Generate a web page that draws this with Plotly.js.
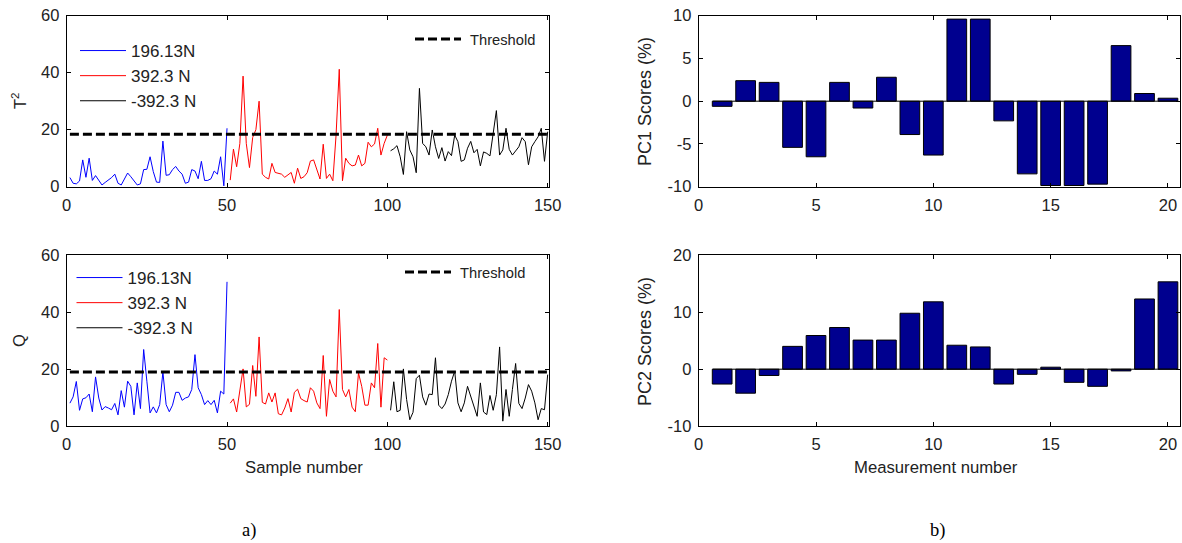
<!DOCTYPE html>
<html>
<head>
<meta charset="utf-8">
<script src="https://cdn.plot.ly/plotly-3.0.1.min.js"></script>
<style>html,body{margin:0;padding:0;background:#fff}</style>
</head>
<body>
<div id="chart" style="width:1182px;height:543px"></div>
<script>
// values
const t2Blue = [3.2,1.2,1,2,9.4,3.3,10,2.2,3.9,2,0.6,1.5,2.2,3.2,4.4,1.2,0.6,2.5,4.8,3.5,2,0.6,1,6,6.1,10.5,5.3,1.6,1.5,16,4,4.2,6,7.1,5.5,4.4,1.2,1.6,6,5.5,2.8,8.9,2.2,2.2,2.8,5.5,4.4,10.5,0.3,20.5];
const t2Red = [2.3,13.2,7,15.2,38.8,15.2,6.7,17.3,20,30,4.4,3.3,2.7,8.2,5,4.7,4.4,3.3,4,5,1.2,6.5,2.9,3.5,4.9,9,9.4,6.4,2.7,14.9,2.9,4.4,2.1,18,41.2,2.1,10,8.2,7.3,7.6,11.1,7.3,8.2,15.6,14,15,20.5,11.1,15.2,18.1];
const t2Black = [12.6,13.3,14.4,10.5,4.3,19.3,12.9,10.5,4.9,34.5,15.2,14,11.1,19.9,14,9.9,13.7,9,12.3,10.9,18.1,15.8,8.9,9.4,13.5,15.9,11.9,13.1,7.3,12.2,11.7,10.8,18.7,26.7,11.1,12.9,20.5,13.1,11.1,12.5,14,17.2,15.8,7.7,14,15.8,17.5,20.5,8.9,19.3];
const qBlue = [8.1,10.3,15.7,5.6,9.6,10,11.3,5.1,17.3,9.9,5.7,6.9,6.4,5.8,8,4,12.5,6.7,15.8,14,4,15.2,6.2,26.9,15.8,4.7,6.8,4.7,7.6,19,7.6,5.1,7.4,11.9,11.9,9.1,9.9,10.3,12.9,25.1,13.5,11.1,7.6,9,7.6,9.1,4.7,12.3,11.3,50.6];
const qRed = [8.1,9.6,5,12.9,20.1,6.8,7.7,21.3,10.5,31.3,8.4,7.8,11.7,8.5,11.7,4.4,4,6.4,9.7,5,11.9,13,9.7,9,8.5,13.5,12.3,8.2,6.2,24.8,3.5,16.4,12.3,10.3,40.9,12.9,10.3,12.9,6.7,5.1,18.7,14,7.4,7.4,15.2,13.5,29,6.7,24,23.2];
const qBlack = [5.6,15.6,5.1,5.6,20.1,9.4,2.3,4.9,16.7,17.9,10.3,7.4,11.3,11.1,24,7.4,6.2,7.8,11.1,15.8,19.3,8.2,5.1,8.2,14,10.5,7.4,3.5,15.2,5,4.1,10.8,5.6,11.1,27.8,1.8,12.9,3.5,12.9,22,8,6.2,9.9,14.6,12.3,8.2,2.3,6.2,5.8,18.1];
const pc1Scores = [-0.6,2.4,2.2,-5.4,-6.5,2.2,-0.8,2.8,-3.9,-6.3,9.6,9.6,-2.3,-8.5,-9.86,-9.86,-9.7,6.5,0.9,0.35];
const pc2Scores = [-2.6,-4.2,-1.1,4,5.9,7.3,5.1,5.1,9.8,11.8,4.2,3.9,-2.6,-0.9,0.35,-2.3,-3,-0.3,12.3,15.3];
const t2Threshold = 18.4;
const qThreshold = 19;
const thresholdX = [1, 150];
const baselineX = [0.6, 20.4];
const seriesNames = ['196.13N', '392.3 N', '-392.3 N'];
const seriesColors = ['#0000ff', '#ff0000', '#000000'];

const W = 1182, H = 543;
const textColor = '#222';
const fontFam = 'Arial, "Liberation Sans", sans-serif';

const range = (start, n) => Array.from({ length: n }, (_, i) => start + i);
const measurements = range(1, 20);

function lineTraces(values, xa, ya, legend) {
    return values.map((v, i) => ({
        x: range(1 + i * 50, v.length),
        y: v,
        xaxis: xa,
        yaxis: ya,
        type: 'scatter',
        mode: 'lines',
        name: seriesNames[i],
        legend: legend,
        legendgroup: legend + i,
        line: { color: seriesColors[i], width: 1 }
    }));
}

function thresholdTrace(level, xa, ya, legend) {
    return {
        x: thresholdX,
        y: [level, level],
        xaxis: xa,
        yaxis: ya,
        type: 'scatter',
        mode: 'lines',
        name: '\u00a0Threshold',
        legend: legend,
        line: { color: '#000', width: 3, dash: '9px,4px' }
    };
}

function barTraces(values, xa, ya) {
    return [{
        x: measurements,
        y: values,
        xaxis: xa,
        yaxis: ya,
        type: 'bar',
        width: 0.84,
        showlegend: false,
        marker: { color: '#00008f', line: { color: '#000', width: 1 } }
    }, {
        x: baselineX,
        y: [0, 0],
        xaxis: xa,
        yaxis: ya,
        type: 'scatter',
        mode: 'lines',
        showlegend: false,
        line: { color: '#000', width: 1 }
    }];
}

const data = [
    ...lineTraces([t2Blue, t2Red, t2Black], 'x', 'y', 'legend'),
    thresholdTrace(t2Threshold, 'x', 'y', 'legend2'),
    ...lineTraces([qBlue, qRed, qBlack], 'x2', 'y2', 'legend3'),
    thresholdTrace(qThreshold, 'x2', 'y2', 'legend4'),
    ...barTraces(pc1Scores, 'x3', 'y3'),
    ...barTraces(pc2Scores, 'x4', 'y4')
];

function axis(domain, anchor, rng, tickvals) {
    return {
        domain: domain,
        anchor: anchor,
        range: rng,
        tickmode: 'array',
        tickvals: tickvals,
        ticktext: tickvals.map(String),
        ticks: 'inside',
        ticklen: 4,
        tickwidth: 1,
        tickcolor: '#000',
        showline: true,
        linecolor: '#000',
        linewidth: 1,
        mirror: 'allticks',
        showgrid: false,
        zeroline: false,
        ticklabelstandoff: 3,
        tickfont: { family: fontFam, size: 16.5, color: textColor }
    };
}

const xDomain = (left, right) => [left / W, right / W];
const yDomain = (top, bottom) => [1 - bottom / H, 1 - top / H];

function lineLegend(xPx, yPx) {
    return {
        x: xPx / W, y: 1 - yPx / H, xanchor: 'left', yanchor: 'top',
        bgcolor: 'rgba(0,0,0,0)', borderwidth: 0, traceorder: 'grouped', tracegroupgap: 0,
        itemwidth: 46, font: { family: fontFam, size: 17, color: textColor }
    };
}

function thresholdLegend(xPx, yPx) {
    return {
        x: xPx / W, y: 1 - yPx / H, xanchor: 'left', yanchor: 'top',
        bgcolor: 'rgba(0,0,0,0)', borderwidth: 0,
        itemwidth: 46, font: { family: fontFam, size: 14.7, color: textColor }
    };
}

function label(text, xPx, yPx, size, angle) {
    return {
        text: text, xref: 'paper', yref: 'paper', x: xPx / W, y: 1 - yPx / H,
        xanchor: 'center', yanchor: 'middle', showarrow: false, textangle: angle || 0,
        font: { family: fontFam, size: size, color: textColor }
    };
}

function caption(text, xPx) {
    const c = label(text, xPx, 530.5, 18.5);
    c.font = { family: '"Liberation Serif", serif', size: 18.5, color: '#000' };
    return c;
}

const leftPanel = xDomain(66.7, 549.3);
const rightPanel = xDomain(698.7, 1179.7);
const topPanel = yDomain(15.7, 186.7);
const lowPanel = yDomain(255, 426.3);

const layout = {
    width: W,
    height: H,
    margin: { l: 0, r: 0, t: 0, b: 0 },
    paper_bgcolor: 'white',
    plot_bgcolor: 'white',
    xaxis: axis(leftPanel, 'y', [0, 150.5], [0, 50, 100, 150]),
    yaxis: axis(topPanel, 'x', [0, 60], [0, 20, 40, 60]),
    xaxis2: axis(leftPanel, 'y2', [0, 150.5], [0, 50, 100, 150]),
    yaxis2: axis(lowPanel, 'x2', [0, 60], [0, 20, 40, 60]),
    xaxis3: axis(rightPanel, 'y3', [0, 20.5], [0, 5, 10, 15, 20]),
    yaxis3: axis(topPanel, 'x3', [-10, 10], [-10, -5, 0, 5, 10]),
    xaxis4: axis(rightPanel, 'y4', [0, 20.5], [0, 5, 10, 15, 20]),
    yaxis4: axis(lowPanel, 'x4', [-10, 20], [-10, 0, 10, 20]),
    legend: lineLegend(75, 33),
    legend2: thresholdLegend(410, 23),
    legend3: lineLegend(71.5, 260),
    legend4: thresholdLegend(400, 256),
    annotations: [
        label('T<sup>2</sup>', 19, 100, 16.5, -90),
        label('Q', 19, 340, 16.5, -90),
        label('PC1 Scores (%)', 645, 102, 18, -90),
        label('PC2 Scores (%)', 645, 342, 18, -90),
        label('Sample number', 304, 467, 16.7),
        label('Measurement number', 936, 467, 16.7),
        caption('a)', 249),
        caption('b)', 937)
    ]
};

Plotly.newPlot('chart', data, layout, { displayModeBar: false, responsive: false });
</script>
</body>
</html>
